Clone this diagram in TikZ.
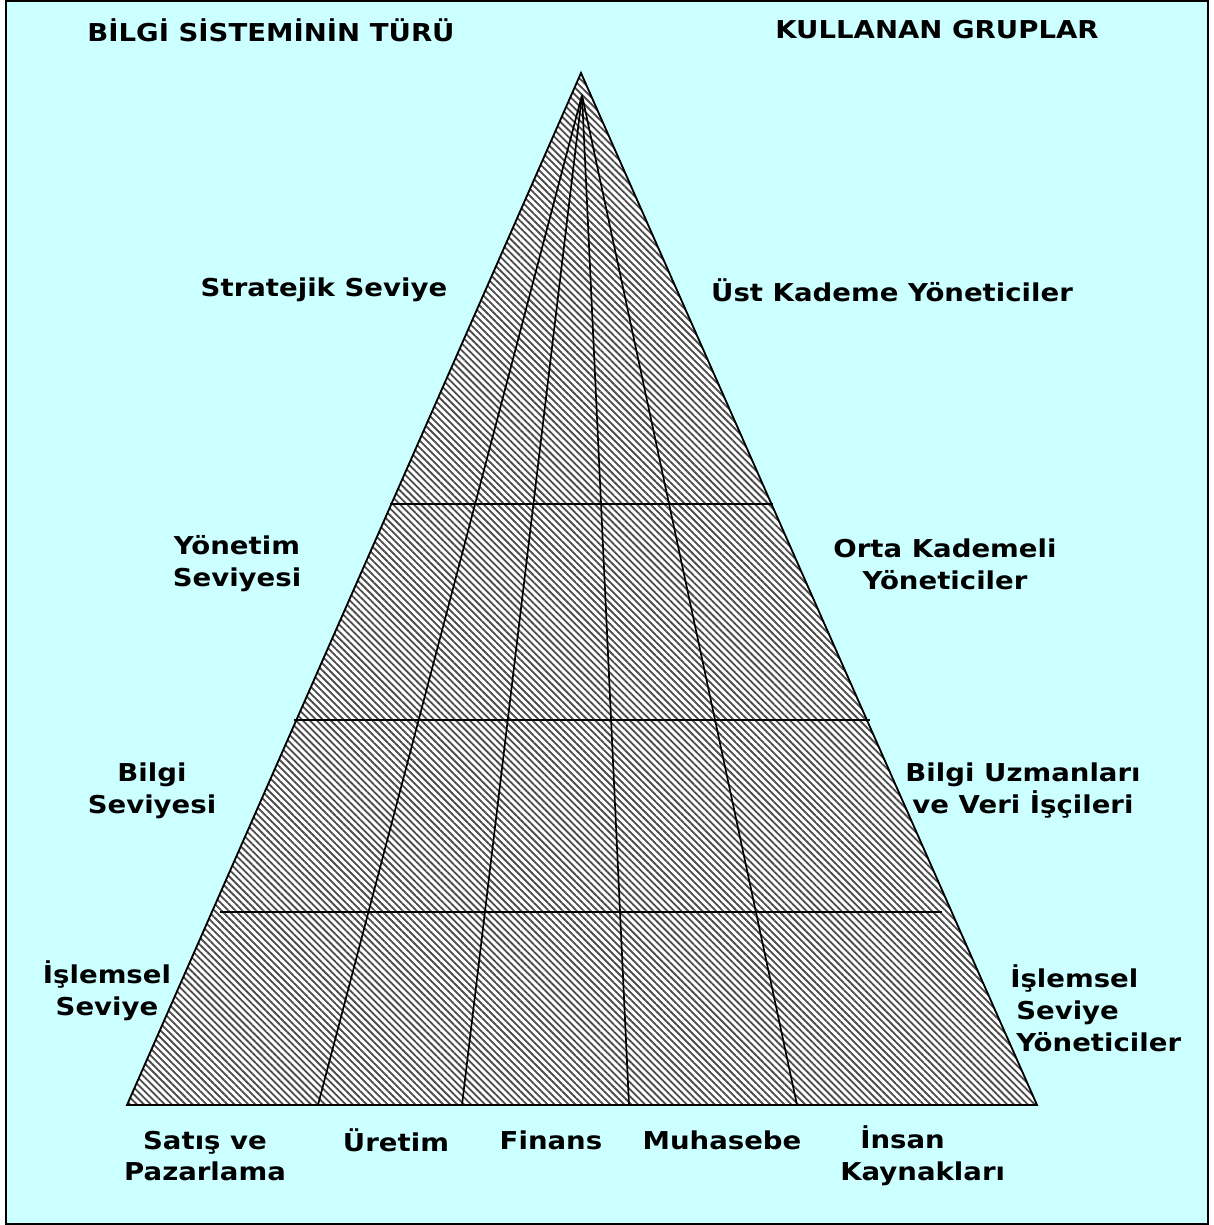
\documentclass[tikz,border=0pt]{standalone}
\usepackage{fontspec}
\setmainfont{DejaVu Sans}[FakeStretch=1.12]
\usepackage{xcolor}
\usepackage{tikz}
\usetikzlibrary{patterns.meta}

\definecolor{paleCyan}{HTML}{CCFFFF}

\begin{document}
\begin{tikzpicture}[
  x=0.025cm, y=-0.025cm,
  frame/.style={draw=black, line width=1.5pt, fill=paleCyan},
  pyramid/.style={draw=black, line width=1.3pt, preaction={fill=white},
    pattern={Lines[angle=-45, distance=3.5pt, line width=1.3pt]}, pattern color=black!70},
  divider/.style={draw=black, line width=1.2pt},
  label/.style={font=\fontsize{17.5}{22.7}\selectfont\bfseries, align=center, inner sep=0pt},
]
  \useasboundingbox (0,0) rectangle (1214,1225);
  \draw[frame] (6,1) rectangle (1208,1224);

  % pyramid and its corners
  \coordinate (apex) at (581,73);
  \coordinate (baseL) at (127,1105);
  \coordinate (baseR) at (1037,1105);
  \coordinate (focus) at (582,95);
  \draw[pyramid] (apex) -- (baseL) -- (baseR) -- cycle;

  % level borders
  \coordinate (l1a) at (390,504);  \coordinate (l1b) at (773,504);
  \coordinate (l2a) at (294,720);  \coordinate (l2b) at (870,720);
  \coordinate (l3a) at (220,912);  \coordinate (l3b) at (942,912);
  \draw[divider] (l1a) -- (l1b);
  \draw[divider] (l2a) -- (l2b);
  \draw[divider] (l3a) -- (l3b);

  % functional areas
  \coordinate (f1) at (318,1105);
  \coordinate (f2) at (462,1105);
  \coordinate (f3) at (629,1105);
  \coordinate (f4) at (797,1105);
  \foreach \f in {f1,f2,f3,f4}
    \draw[divider] (focus) -- (\f);

  \node[label] (typeHead)  at (271,30)  {BİLGİ SİSTEMİNİN TÜRÜ};
  \node[label] (groupHead) at (937,30)  {KULLANAN GRUPLAR};

  \node[label] (strategic) at (324,290) {Stratejik Seviye};
  \node[label] (topMgr)    at (892,290) {Üst Kademe Yöneticiler};
  \node[label] (mgmt)      at (237,564) {Yönetim\\Seviyesi};
  \node[label] (midMgr)    at (945,564) {Orta Kademeli\\Yöneticiler};
  \node[label] (knowledge) at (152,791) {Bilgi\\Seviyesi};
  \node[label] (experts)   at (1023,791) {Bilgi Uzmanları\\ve Veri İşçileri};
  \node[label] (operL)     at (107,991) {İşlemsel\\Seviye};
  \node[label, anchor=west, align=left] (operR) at (1010,1008)
    {İşlemsel\\\hspace*{0.15cm}Seviye\\\hspace*{0.15cm}Yöneticiler};

  \node[label] (sales)     at (205,1156) {Satış ve\\Pazarlama};
  \node[label] (production) at (396,1140) {Üretim};
  \node[label] (finance)   at (551,1140) {Finans};
  \node[label] (accounting) at (722,1140) {Muhasebe};
  \node[label, anchor=west, align=left] (hr) at (840,1156)
    {\hspace*{0.5cm}İnsan\\Kaynakları};
\end{tikzpicture}
\end{document}
